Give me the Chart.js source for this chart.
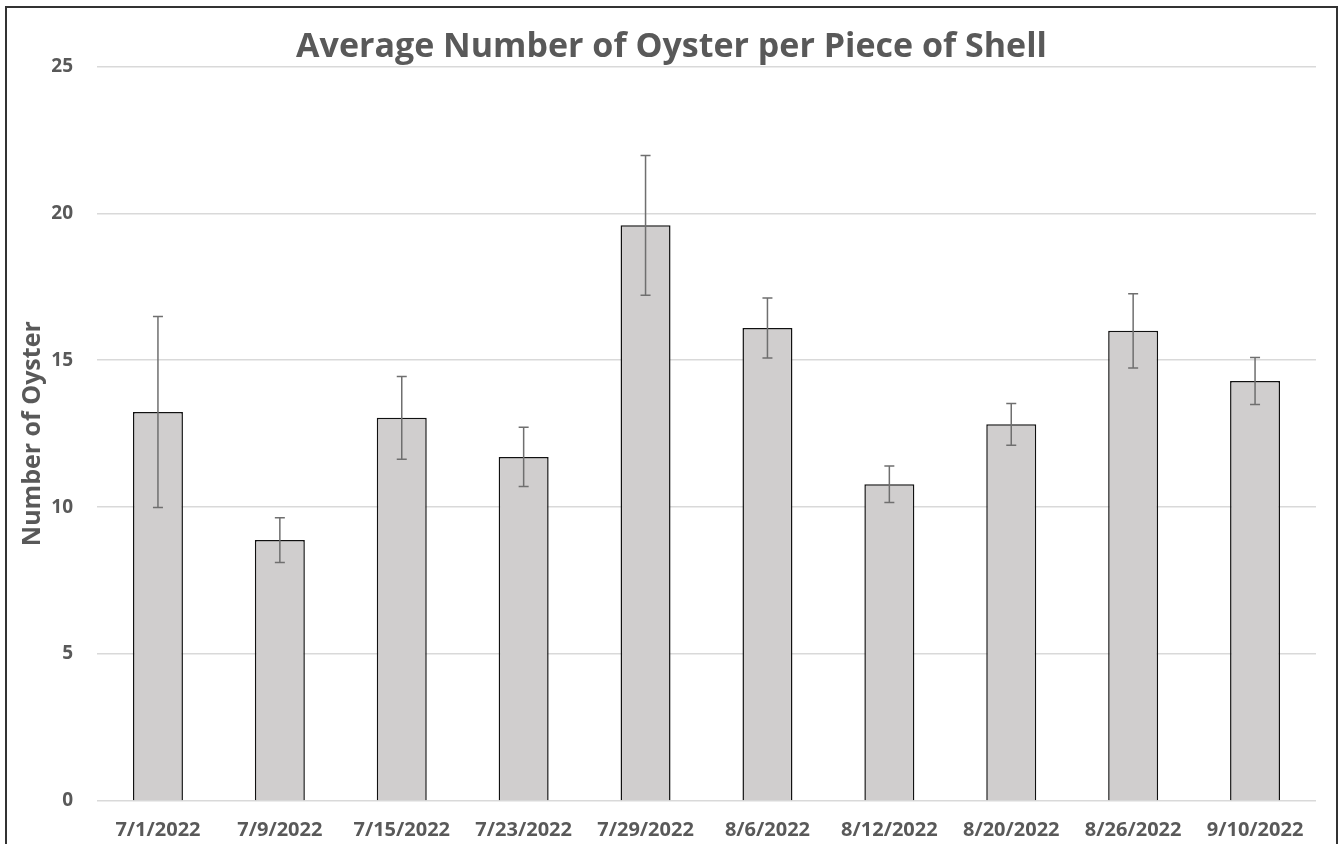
<!DOCTYPE html>
<html>
<head>
<meta charset="utf-8">
<script src="https://cdn.jsdelivr.net/npm/chart.js@4"></script>
<style>
  html, body { margin: 0; padding: 0; background: #fff; overflow: hidden; }
  #wrap { position: relative; width: 1343px; height: 844px; }
  #frame { position: absolute; left: 5px; top: 6px; width: 1333px; height: 900px; border: 2px solid #333; box-sizing: border-box; pointer-events: none; }
  canvas { position: absolute; left: 0; top: 0; }
</style>
</head>
<body>
<div id="wrap">
  <canvas id="c" width="1343" height="844"></canvas>
  <div id="frame"></div>
</div>
<script>
const chartTitle = 'Average Number of Oyster per Piece of Shell';
const yAxisTitle = 'Number of Oyster';
const categories = ['7/1/2022', '7/9/2022', '7/15/2022', '7/23/2022', '7/29/2022', '8/6/2022', '8/12/2022', '8/20/2022', '8/26/2022', '9/10/2022'];
const means = [13.24, 8.88, 13.04, 11.71, 19.59, 16.10, 10.78, 12.82, 16.00, 14.29];
const errors = [3.25, 0.76, 1.41, 1.01, 2.38, 1.02, 0.62, 0.71, 1.26, 0.80];
const yTicks = [0, 5, 10, 15, 20, 25];

const textColor = '#595959';
const fontFamily = "'Open Sans', 'Noto Sans', sans-serif";

const errorBarPlugin = {
  id: 'errorBars',
  afterDatasetsDraw(chart) {
    const ctx = chart.ctx;
    const xs = chart.scales.x, ys = chart.scales.y;
    ctx.save();
    ctx.strokeStyle = '#6f6f6f';
    ctx.lineWidth = 1.5;
    means.forEach((m, i) => {
      const x = xs.getPixelForValue(i);
      const yTop = ys.getPixelForValue(m + errors[i]);
      const yBot = ys.getPixelForValue(m - errors[i]);
      ctx.beginPath();
      ctx.moveTo(x, yTop); ctx.lineTo(x, yBot);
      ctx.moveTo(x - 5, yTop); ctx.lineTo(x + 5, yTop);
      ctx.moveTo(x - 5, yBot); ctx.lineTo(x + 5, yBot);
      ctx.stroke();
    });
    ctx.restore();
  }
};

new Chart(document.getElementById('c'), {
  type: 'bar',
  data: {
    labels: categories,
    datasets: [{
      data: means,
      backgroundColor: '#d0cece',
      borderColor: '#111',
      borderWidth: 1.5,
      categoryPercentage: 1.0,
      barPercentage: 0.41
    }]
  },
  options: {
    responsive: false,
    animation: false,
    devicePixelRatio: 1,
    layout: { padding: 0 },
    plugins: {
      legend: { display: false },
      tooltip: { enabled: false },
      title: {
        display: true,
        text: chartTitle,
        color: textColor,
        font: { family: fontFamily, size: 34, weight: 'bold', lineHeight: 1.1 },
        padding: { top: 29, bottom: 0 }
      }
    },
    scales: {
      x: {
        grid: { display: false, drawTicks: false },
        border: { display: false },
        ticks: {
          color: textColor,
          font: { family: fontFamily, size: 20, weight: 'bold' },
          padding: 17,
          maxRotation: 0,
          autoSkip: false
        },
        afterFit(scale) { scale.height = 43; }
      },
      y: {
        min: 0,
        max: 25,
        afterBuildTicks(scale) { scale.ticks = yTicks.map(v => ({ value: v })); },
        grid: { color: '#d9d9d9', lineWidth: 1.5, drawTicks: false },
        border: { display: false },
        ticks: {
          color: textColor,
          font: { family: fontFamily, size: 19, weight: 'bold' },
          padding: 24
        },
        title: {
          display: true,
          text: yAxisTitle,
          color: textColor,
          font: { family: fontFamily, size: 25, weight: 'bold', lineHeight: 1.2 },
          padding: { top: 18, bottom: 0 }
        },
        afterFit(scale) { scale.width = 97; }
      },
      yRight: {
        position: 'right',
        min: 0,
        max: 25,
        grid: { display: false, drawTicks: false },
        border: { display: false },
        ticks: { display: false },
        afterFit(scale) { scale.width = 27; }
      }
    }
  },
  plugins: [errorBarPlugin]
});
</script>
</body>
</html>
